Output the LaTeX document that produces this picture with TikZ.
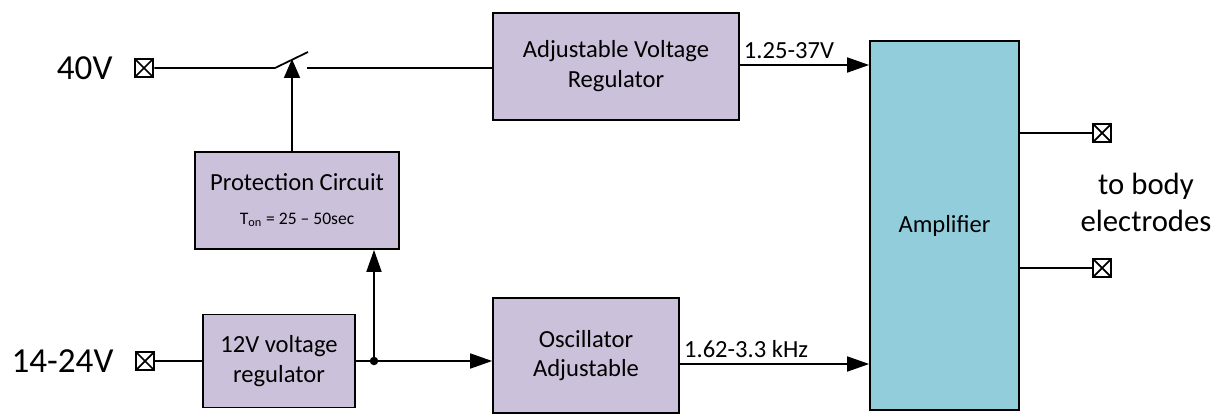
\documentclass[tikz,border=0pt]{standalone}
\usepackage{fontspec}
\setmainfont{Carlito}
\usepackage{tikz}
\usetikzlibrary{arrows.meta, positioning}

\definecolor{boxpurple}{HTML}{CCC1DA}
\definecolor{ampblue}{HTML}{92CDDC}

\begin{document}
\begin{tikzpicture}[
    x=0.02cm, y=-0.02cm,
    block/.style={rectangle, draw=black, line width=1pt, fill=boxpurple,
                  align=center, inner sep=2pt, font=\fontsize{14}{17}\selectfont},
    ampblock/.style={block, fill=ampblue},
    term/.style={rectangle, draw=black, line width=1.5pt, minimum size=0.36cm, inner sep=0pt,
                 path picture={\draw[line width=1pt] (path picture bounding box.south west) -- (path picture bounding box.north east)
                                                     (path picture bounding box.north west) -- (path picture bounding box.south east);}},
    wire/.style={line width=1pt},
    arrow/.style={wire, -{Triangle[length=0.44cm, width=0.3cm]}},
    lbl/.style={font=\fontsize{14}{17}\selectfont},
    biglbl/.style={font=\fontsize{20}{24}\selectfont}
]
\useasboundingbox (0,0) rectangle (1227,416);

% blocks
\node[block, minimum width=4.92cm, minimum height=2.14cm] (avr)  at (616,66.5) {Adjustable Voltage\\Regulator};
\node[block, minimum width=4.08cm, minimum height=1.94cm] (prot) at (297,200.5)
    {Protection Circuit\\[2pt]{\fontsize{10}{12}\selectfont T\textsubscript{on} = 25 -- 50sec}};
\node[block, minimum width=3.04cm, minimum height=1.86cm] (reg)  at (279,361) {12V voltage\\regulator};
\node[block, minimum width=3.72cm, minimum height=2.3cm]  (osc)  at (586,355.5) {Oscillator\\Adjustable};
\node[ampblock, minimum width=2.98cm, minimum height=7.38cm] (amp) at (944.5,225.5) {Amplifier};

% terminals
\node[term] (t40)  at (144,68) {};
\node[term] (t14)  at (145,361) {};
\node[term] (out1) at (1102,133) {};
\node[term] (out2) at (1102,268) {};
\node[biglbl, left=0.3cm of t40]  (l40) {40V};
\node[biglbl, left=0.3cm of t14]  (l14) {14-24V};
\node[font=\fontsize{17.5}{21}\selectfont, align=center] (lout) at (1146,202) {to body\\electrodes};

% switch
\coordinate (sw1) at (275,68);
\coordinate (sw2) at (308,52);
\coordinate (sw3) at (307,68);
\coordinate (swin) at (292,59);
\coordinate (jn) at (374,361);

\draw[wire] (t40) -- (sw1) -- (sw2);
\draw[wire] (sw3) -- (avr.west |- sw3);
\draw[arrow, -{Triangle[length=0.38cm, width=0.32cm]}] (prot.north -| swin) -- (swin);

\draw[arrow] (avr.east |- 0,65) -- node[lbl, above, pos=0.38] {1.25-37V} (amp.west |- 0,65);

\draw[wire] (t14) -- (reg.west);
\draw[wire] (reg.east) -- (jn);
\draw[arrow] (jn) -- (osc.west |- jn);
\draw[arrow] (jn) -- (prot.south -| jn);
\fill (jn) circle (0.085cm);

\draw[arrow] (osc.east |- 0,364) -- node[lbl, above, pos=0.35] {1.62-3.3 kHz} (amp.west |- 0,364);

\draw[wire] (amp.east |- out1) -- (out1);
\draw[wire] (amp.east |- out2) -- (out2);
\end{tikzpicture}
\end{document}
